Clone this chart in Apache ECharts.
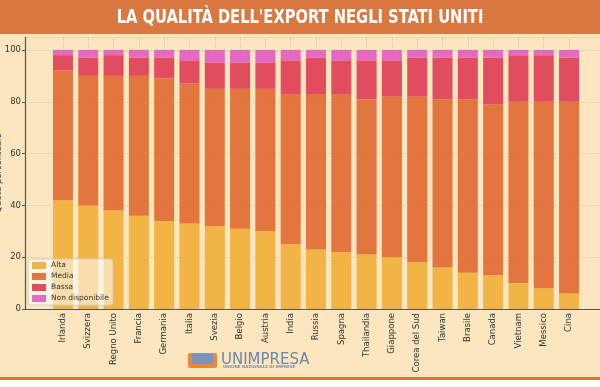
<!DOCTYPE html>
<html>
<head>
<meta charset="utf-8">
<script src="https://cdn.jsdelivr.net/npm/echarts@6/dist/echarts.min.js"></script>
<style>html,body{margin:0;padding:0;background:#fff;}#c{width:600px;height:387px;}</style>
</head>
<body>
<div id="c"></div>
<script>
const categories = ['Irlanda','Svizzera','Regno Unito','Francia','Germania','Italia','Svezia','Belgio','Austria','India','Russia','Spagna','Thailandia','Giappone','Corea del Sud','Taiwan','Brasile','Canada','Vietnam','Messico','Cina'];
const alta   = [42,40,38,36,34,33,32,31,30,25,23,22,21,20,18,16,14,13,10,8,6];
const media  = [50,50,52,54,55,54,53,54,55,58,60,61,60,62,64,65,67,66,70,72,74];
const bassa  = [6,7,8,7,8,9,10,10,10,13,14,13,15,14,15,16,16,18,18,18,17];
const nonDisp= [2,3,2,3,3,4,5,5,5,4,3,4,4,4,3,3,3,3,2,2,3];
const yTicks = [0,20,40,60,80,100];

const cats = [''].concat(categories).concat(['']);
const pad = arr => [null].concat(arr).concat([null]);
const notEmpty = (i, v) => v !== '';

const chart = echarts.init(document.getElementById('c'));
const font = 'DejaVu Sans';
const mk = (name, data, color) => ({
  name, type: 'bar', stack: 'tot', data: pad(data), barWidth: 20,
  itemStyle: {color: color, opacity: 0.95}
});
chart.setOption({
  backgroundColor: '#FBE6BF',
  animation: false,
  textStyle: {fontFamily: font},
  graphic: [
    {type: 'rect', shape: {x: 0, y: 0, width: 600, height: 34}, style: {fill: '#D97841'}, z: 10},
    {type: 'text', x: 300, y: 18, scaleX: 0.86, style: {text: "LA QUALITÀ DELL'EXPORT NEGLI STATI UNITI", fill: '#fff', font: 'bold 19px "Liberation Sans Narrow", "DejaVu Sans Condensed", sans-serif', align: 'center', verticalAlign: 'middle'}, z: 11},
    {type: 'rect', shape: {x: 0, y: 377, width: 600, height: 3}, style: {fill: '#E07038'}, z: 10},
    {type: 'rect', shape: {x: 0, y: 380, width: 600, height: 7}, style: {fill: '#ffffff'}, z: 10},
    {type: 'rect', shape: {x: 188, y: 353, width: 29, height: 15, r: 2}, style: {fill: '#E8893A'}, z: 10},
    {type: 'rect', shape: {x: 192, y: 353, width: 21, height: 11}, style: {fill: '#7D93B3'}, z: 11},
    {type: 'text', x: 221, y: 360, style: {text: 'UNIMPRESA', fill: '#6F86A8', font: '15px "DejaVu Sans", sans-serif', verticalAlign: 'middle'}, z: 11},
    {type: 'text', x: 223, y: 367, style: {text: 'UNIONE NAZIONALE DI IMPRESE', fill: '#7D8FA8', font: 'bold 4px "DejaVu Sans", sans-serif', verticalAlign: 'middle'}, z: 11}
  ],
  legend: {
    orient: 'vertical', left: 28, top: 259,
    data: ['Alta','Media','Bassa','Non disponibile'],
    itemWidth: 14, itemHeight: 7, itemGap: 2,
    backgroundColor: 'rgba(255,255,255,0.55)', borderColor: '#d8d0c0', borderWidth: 1, borderRadius: 3,
    padding: [2, 4, 2, 4],
    textStyle: {fontSize: 7.5, lineHeight: 9, color: '#333', fontFamily: font},
    icon: 'rect'
  },
  grid: {left: 25, right: -7, top: 37, bottom: 78, containLabel: false, outerBoundsMode: 'none'},
  xAxis: {
    type: 'category', data: cats, boundaryGap: true,
    axisLine: {lineStyle: {color: '#555', width: 1.2}},
    axisTick: {alignWithLabel: true, length: 3, interval: notEmpty, lineStyle: {color: '#555'}},
    axisLabel: {rotate: 90, fontSize: 8.5, color: '#333', interval: 0, margin: 4, fontFamily: font},
    splitLine: {show: true, alignWithLabel: true, interval: notEmpty, lineStyle: {color: 'rgba(170,160,140,0.45)', type: 'dotted', width: 1}}
  },
  yAxis: {
    type: 'value', min: 0, max: 105, interval: 20,
    name: 'Quota percentuale', nameLocation: 'middle', nameGap: 22, nameRotate: 90, nameMoveOverlap: false,
    nameTextStyle: {fontSize: 8.5, color: '#444', fontFamily: font},
    axisLine: {show: true, lineStyle: {color: '#555', width: 1.2}},
    axisTick: {show: true, length: 3, lineStyle: {color: '#555'}},
    axisLabel: {fontSize: 8.5, color: '#333', margin: 4, showMaxLabel: false, fontFamily: font,
      formatter: v => yTicks.indexOf(v) >= 0 ? String(v) : ''},
    splitLine: {show: true, lineStyle: {color: 'rgba(170,160,140,0.45)', type: 'dotted', width: 1}}
  },
  series: [
    mk('Alta', alta, '#F0B13E'),
    mk('Media', media, '#E27037'),
    mk('Bassa', bassa, '#DF4459'),
    mk('Non disponibile', nonDisp, '#E462C3')
  ]
});
</script>
</body>
</html>
